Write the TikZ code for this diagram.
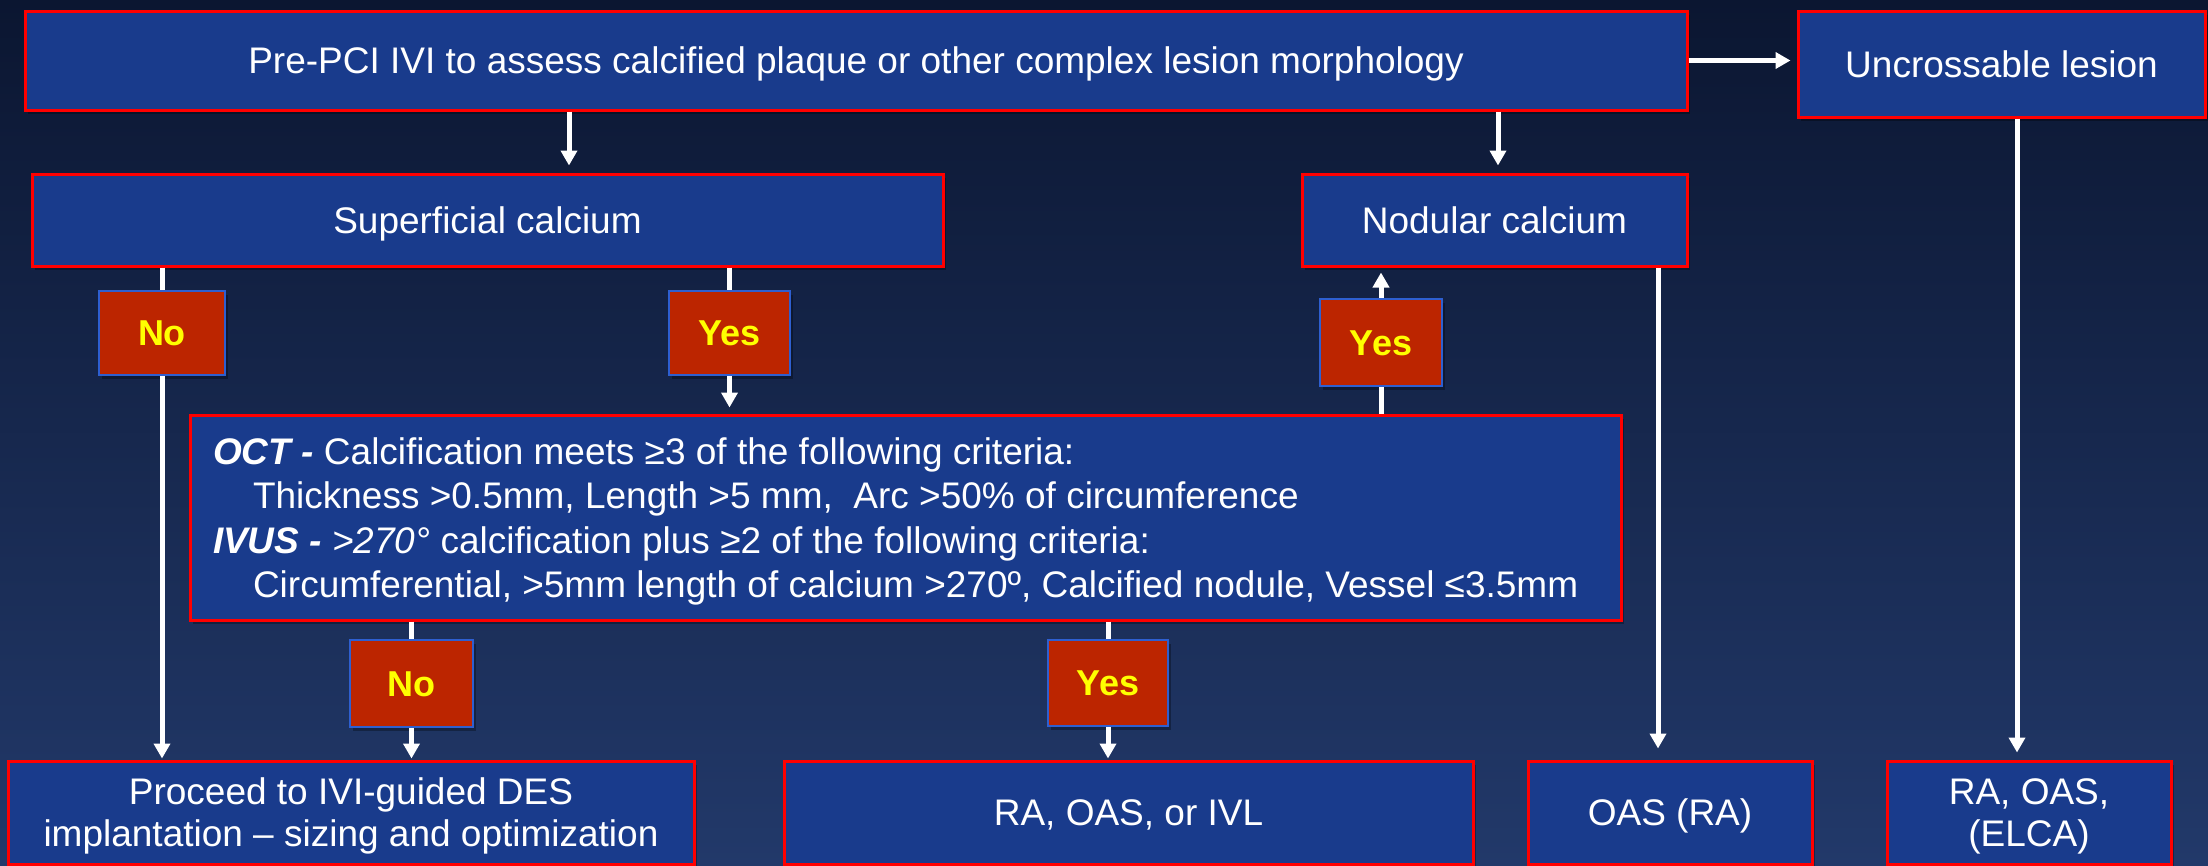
\documentclass[tikz,border=0pt]{standalone}
\usepackage{fontspec}
\setmainfont{Liberation Sans}
\usetikzlibrary{arrows.meta,shadows}

\definecolor{bgtop}{HTML}{0B1631}
\definecolor{bgmid}{HTML}{121F43}
\definecolor{bgbot}{HTML}{22396A}
\definecolor{boxblue}{HTML}{193B8C}
\definecolor{boxred}{HTML}{FF0000}
\definecolor{tagfill}{HTML}{BC2500}
\definecolor{tagedge}{HTML}{2E5FD0}
\definecolor{tagtext}{HTML}{FFFF00}

% centred lines, baseline on the last line
\newcommand\centerlines[1]{\vbox{\halign{\hfil##\hfil\cr#1\cr}}}
% left-aligned lines in a fixed measure, baseline on the last line
\newcommand\leftlines[1]{\vbox{\halign{\hbox to 1385pt{##\hfil}\cr#1\cr}}}

\tikzset{
  boxshadow/.style={drop shadow={shadow xshift=3pt, shadow yshift=-4pt, opacity=0.3, fill=black}},
  stepbox/.style={draw=boxred, line width=3pt, fill=boxblue, text=white, inner sep=0pt,
    font=\fontsize{37}{42}\selectfont, text height=26.5pt, text depth=0pt, boxshadow},
  twoline/.style={text height=68.5pt},
  tag/.style={draw=tagedge, line width=2.5pt, fill=tagfill, text=tagtext, inner sep=0pt,
    font=\fontsize{36}{40}\selectfont\bfseries, text height=25.8pt, text depth=0pt, boxshadow},
  flow/.style={draw=white, line width=5pt},
  flowarrow/.style={flow, -{Triangle[width=16pt,length=15pt]}},
}

\begin{document}
\begin{tikzpicture}[x=1pt,y=-1pt]
\useasboundingbox (0,0) rectangle (2208,865);
\shade[top color=bgtop, middle color=bgmid, bottom color=bgbot] (0,0) rectangle (2208,865);

% top row
\node[stepbox, minimum width=1662pt, minimum height=99pt] (pre) at (856,60.5)
  {Pre-PCI IVI to assess calcified plaque or other complex lesion morphology};
\node[stepbox, minimum width=407pt, minimum height=106pt] (unc) at (2001.5,64)
  {Uncrossable lesion};

% calcium type
\node[stepbox, minimum width=911pt, minimum height=92pt] (sup) at (487.5,220) {Superficial calcium};
\node[stepbox, minimum width=385pt, minimum height=92pt] (nod) at (1494.5,220) {Nodular calcium};

% decision tags
\node[tag, minimum width=126pt, minimum height=84pt] (no1) at (162,333) {No};
\node[tag, minimum width=121pt, minimum height=84pt] (yes1) at (729.5,333) {Yes};
\node[tag, minimum width=122pt, minimum height=87pt] (yes2) at (1381,342.5) {Yes};
\node[tag, minimum width=123pt, minimum height=87pt] (no2) at (411.5,683.5) {No};
\node[tag, minimum width=120pt, minimum height=86pt] (yes3) at (1108,683) {Yes};

% imaging criteria
\node[stepbox, minimum width=1431pt, minimum height=205pt, text height=160pt,
      font=\fontsize{37}{44.5}\selectfont] (oct) at (905.5,517.5)
  {\leftlines{\textbf{\textit{OCT -}} Calcification meets ≥3 of the following criteria:\cr
   \hspace*{40pt}Thickness >0.5mm, Length >5 mm,\ \ Arc >50\% of circumference\cr
   \textbf{\textit{IVUS -}} \textit{>270°} calcification plus ≥2 of the following criteria:\cr
   \hspace*{40pt}Circumferential, >5mm length of calcium >270º, Calcified nodule, Vessel ≤3.5mm}};

% outcomes
\node[stepbox, twoline, minimum width=686pt, minimum height=103pt] (proc) at (351,812.5)
  {\centerlines{Proceed to IVI-guided DES\cr implantation – sizing and optimization}};
\node[stepbox, minimum width=689pt, minimum height=103pt] (ra) at (1128.5,812.5) {RA, OAS, or IVL};
\node[stepbox, minimum width=284pt, minimum height=103pt] (oas) at (1670,812.5) {OAS (RA)};
\node[stepbox, twoline, minimum width=284pt, minimum height=103pt] (elca) at (2029,812.5)
  {\centerlines{RA, OAS,\cr (ELCA)}};

% connector columns
\coordinate (xa) at (569,0);
\coordinate (xb) at (1498,0);
\coordinate (xc) at (1658,0);
\coordinate (xd) at (2017,0);

\draw[flowarrow, shorten >=6pt] (pre.east) -- (unc.west |- pre.east);
\draw[flowarrow, shorten >=7pt] (pre.south -| xa) -- (sup.north -| xa);
\draw[flowarrow, shorten >=7pt] (pre.south -| xb) -- (nod.north -| xb);

\draw[flow] (sup.south -| no1) -- (no1.north);
\draw[flowarrow, shorten >=1pt] (no1.south) -- (proc.north -| no1);

\draw[flow] (sup.south -| yes1) -- (yes1.north);
\draw[flowarrow, shorten >=6pt] (yes1.south) -- (oct.north -| yes1);

\draw[flow] (oct.north -| yes2) -- (yes2.south);
\draw[flowarrow, shorten >=5pt] (yes2.north) -- (nod.south -| yes2);

\draw[flow] (oct.south -| no2) -- (no2.north);
\draw[flowarrow, shorten >=1pt] (no2.south) -- (proc.north -| no2);

\draw[flow] (oct.south -| yes3) -- (yes3.north);
\draw[flowarrow, shorten >=1pt] (yes3.south) -- (ra.north -| yes3);

\draw[flowarrow, shorten >=11pt] (nod.south -| xc) -- (oas.north -| xc);
\draw[flowarrow, shorten >=7pt] (unc.south -| xd) -- (elca.north -| xd);
\end{tikzpicture}
\end{document}
